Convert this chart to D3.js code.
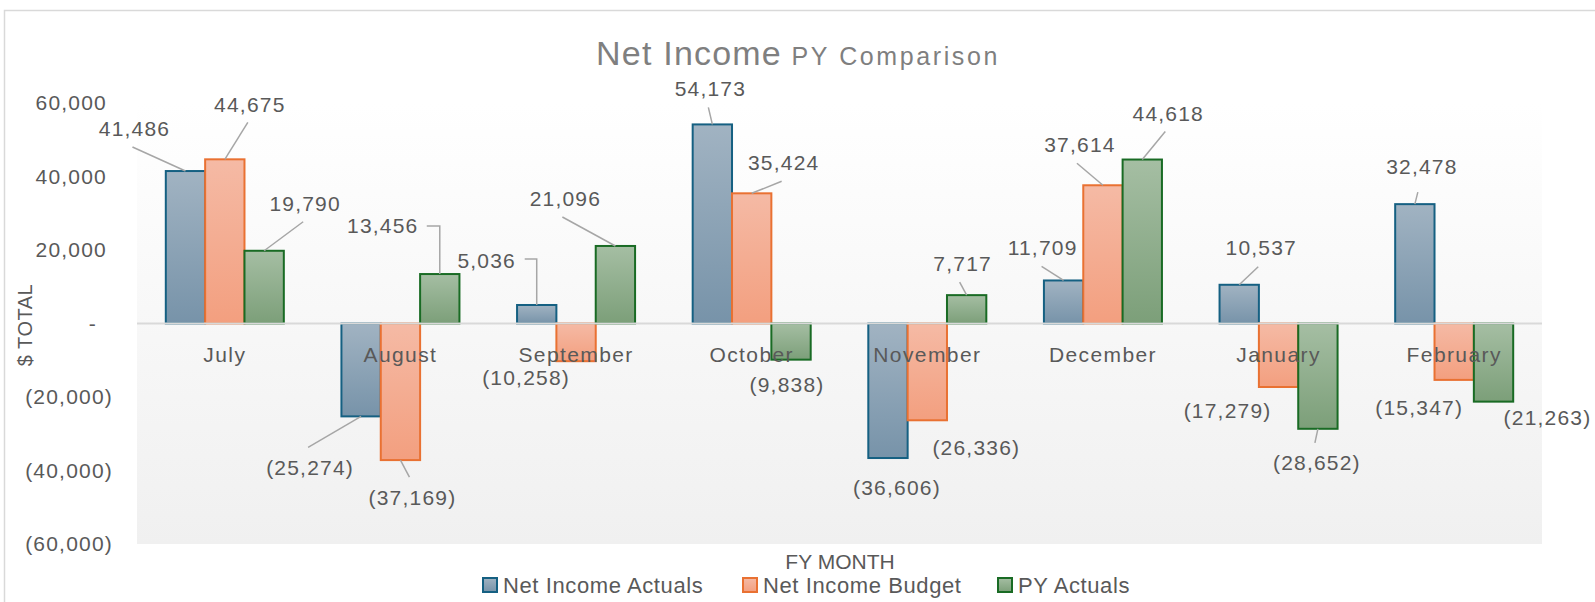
<!DOCTYPE html>
<html>
<head>
<meta charset="utf-8">
<script src="https://cdn.jsdelivr.net/npm/d3@7"></script>
<style>
    body { margin: 0; background: #fff; }
    #chart-area { width: 1595px; height: 602px; }
    .tick-label, .data-label, .month-label { font-family: "Liberation Sans", Arial, sans-serif; fill: #595959; }
    .narrow { font-family: "Liberation Sans", Arial, sans-serif; fill: #595959; }
</style>
</head>
<body>
<div id="chart-area"></div>
<script>

// chart data
let months = ["July", "August", "September", "October", "November", "December", "January", "February"];
let seriesNames = ["Net Income Actuals", "Net Income Budget", "PY Actuals"];
let actuals = [41486, -25274, 5036, 54173, -36606, 11709, 10537, 32478];
let budget = [44675, -37169, -10258, 35424, -26336, 37614, -17279, -15347];
let pyActuals = [19790, 13456, 21096, -9838, 7717, 44618, -28652, -21263];
let yTicks = [-60000, -40000, -20000, 0, 20000, 40000, 60000];

// label placement relative to bar end: [dx, dy, leaderDx, leaderDy, leaderType]
// leaderType: 0 = none, 1 = straight, 2 = elbow
let labelLayout = [
    [[-51, -42, -53, -24, 1], [-51, 51, -53, 31, 1], [-50, -44, -12, -46, 2], [-2, -36, -4, -17, 1],
     [9, 30, 0, 0, 0], [-21, -33, -22, -14, 1], [22, -37, 19, -18, 1], [7, -37, 3, -12, 1]],
    [[25, -55, 23, -37, 1], [12, 38, 9, 17, 1], [-50, 16, 0, 0, 0], [32, -31, 30, -12, 1],
     [49, 27, 0, 0, 0], [-23, -41, -26, -22, 1], [-51, 24, 0, 0, 0], [-35, 28, 0, 0, 0]],
    [[41, -47, 39, -29, 1], [-57, -48, -13, -48, 2], [-50, -47, -53, -29, 1], [-4, 25, 0, 0, 0],
     [-4, -31, -7, -13, 1], [26, -46, 23, -28, 1], [-1, 34, -3, 14, 1], [54, 16, 0, 0, 0]]
];

let strokeColors = ["#156082", "#E97132", "#196B24"];
let gradStops = [["#a1b3c2", "#7793a9"], ["#f5baa5", "#f39f7f"], ["#a5bea3", "#7c9f79"]];


class BarVis {

    constructor(parentElement) {
        this.parentElement = parentElement;
        this.initVis();
    }

    initVis() {
        let vis = this;

        vis.width = 1595;
        vis.height = 602;
        vis.plot = {left: 137, right: 1542, top: 103, bottom: 544};

        vis.svg = d3.select("#" + vis.parentElement).append("svg")
            .attr("width", vis.width)
            .attr("height", vis.height);

        let defs = vis.svg.append("defs");

        // plot area background
        let bg = defs.append("linearGradient").attr("id", "plot-bg")
            .attr("x1", 0).attr("y1", 0).attr("x2", 0).attr("y2", 1);
        bg.append("stop").attr("offset", "0%").attr("stop-color", "#ffffff");
        bg.append("stop").attr("offset", "100%").attr("stop-color", "#f0f0f0");

        // bar fills
        gradStops.forEach((s, i) => {
            let g = defs.append("linearGradient").attr("id", "bar-grad-" + i)
                .attr("x1", 0).attr("y1", 0).attr("x2", 0).attr("y2", 1);
            g.append("stop").attr("offset", "0%").attr("stop-color", s[0]);
            g.append("stop").attr("offset", "100%").attr("stop-color", s[1]);
        });

        // chart border
        vis.svg.append("rect")
            .attr("x", 4.5).attr("y", 10.5)
            .attr("width", 1620).attr("height", 620)
            .attr("fill", "none")
            .attr("stroke", "#d9d9d9")
            .attr("stroke-width", 1.5);

        vis.svg.append("rect")
            .attr("x", vis.plot.left).attr("y", vis.plot.top)
            .attr("width", vis.plot.right - vis.plot.left)
            .attr("height", vis.plot.bottom - vis.plot.top)
            .attr("fill", "url(#plot-bg)");

        // Scales
        vis.x0 = d3.scaleBand()
            .domain(months)
            .range([vis.plot.left, vis.plot.right])
            .paddingInner(0.328)
            .paddingOuter(0.164);

        vis.x1 = d3.scaleBand()
            .domain([0, 1, 2])
            .range([0, vis.x0.bandwidth()]);

        vis.y = d3.scaleLinear()
            .domain([-60000, 60000])
            .range([vis.plot.bottom, vis.plot.top]);

        vis.fmt = d3.format(",");

        vis.updateVis();
    }

    label(v) {
        return v < 0 ? "(" + this.fmt(-v) + ")" : this.fmt(v);
    }

    updateVis() {
        let vis = this;

        // y axis
        let yAxis = d3.axisLeft(vis.y)
            .tickValues(yTicks)
            .tickSize(0)
            .tickFormat(d => d === 0 ? "-" : vis.label(d));

        let yG = vis.svg.append("g")
            .attr("transform", "translate(113,0)")
            .call(yAxis);
        yG.select(".domain").remove();
        yG.selectAll("text")
            .attr("class", "tick-label")
            .attr("x", d => d > 0 ? -6 : (d === 0 ? -16 : 0))
            .attr("font-size", 21)
            .style("letter-spacing", "1.2px")
            .attr("fill", "#595959");

        // bars
        let seriesData = [actuals, budget, pyActuals];
        let bars = [];
        seriesData.forEach((vals, s) => {
            vals.forEach((v, m) => bars.push({s: s, m: m, value: v}));
        });

        vis.svg.append("g").selectAll("rect")
            .data(bars)
            .enter().append("rect")
            .attr("x", d => vis.x0(months[d.m]) + vis.x1(d.s))
            .attr("y", d => vis.y(Math.max(0, d.value)))
            .attr("width", vis.x1.bandwidth())
            .attr("height", d => Math.abs(vis.y(d.value) - vis.y(0)))
            .attr("fill", d => "url(#bar-grad-" + d.s + ")")
            .attr("stroke", d => strokeColors[d.s])
            .attr("stroke-width", 2);

        // zero line
        vis.svg.append("line")
            .attr("x1", vis.plot.left).attr("x2", vis.plot.right)
            .attr("y1", vis.y(0)).attr("y2", vis.y(0))
            .attr("stroke", "#d9d9d9")
            .attr("stroke-width", 2);

        // month labels
        let xAxis = d3.axisBottom(vis.x0).tickSize(0);
        let xG = vis.svg.append("g")
            .attr("transform", "translate(0," + vis.y(0) + ")")
            .call(xAxis);
        xG.select(".domain").remove();
        xG.selectAll("text")
            .attr("class", "month-label")
            .attr("y", 31)
            .attr("dy", "0.35em")
            .attr("font-size", 21)
            .style("letter-spacing", "1.4px")
            .attr("fill", "#595959");

        // data labels + leader lines
        let barEnd = d => [vis.x0(months[d.m]) + vis.x1(d.s) + vis.x1.bandwidth() / 2, vis.y(d.value)];
        let leaders = vis.svg.append("g");
        bars.forEach(d => {
            let lay = labelLayout[d.s][d.m];
            let [bx, by] = barEnd(d);
            if (lay[4] === 1) {
                leaders.append("path")
                    .attr("d", "M" + (bx + lay[2]) + "," + (by + lay[3]) + "L" + bx + "," + by);
            } else if (lay[4] === 2) {
                leaders.append("path")
                    .attr("d", "M" + (bx + lay[2]) + "," + (by + lay[3]) + "H" + bx + "V" + by);
            }
        });
        leaders.selectAll("path")
            .attr("fill", "none")
            .attr("stroke", "#a6a6a6")
            .attr("stroke-width", 1.5);

        vis.svg.append("g").selectAll("text")
            .data(bars)
            .enter().append("text")
            .attr("class", "data-label")
            .attr("x", d => barEnd(d)[0] + labelLayout[d.s][d.m][0])
            .attr("y", d => barEnd(d)[1] + labelLayout[d.s][d.m][1])
            .attr("dy", "0.35em")
            .attr("text-anchor", "middle")
            .attr("font-size", 21)
            .style("letter-spacing", "1.2px")
            .text(d => vis.label(d.value));

        // title
        let title = vis.svg.append("text")
            .attr("x", 798)
            .attr("y", 65)
            .attr("text-anchor", "middle")
            .attr("fill", "#7f7f7f")
            .attr("font-family", "Liberation Sans, Arial, sans-serif");
        title.append("tspan").attr("font-size", 34).style("letter-spacing", "1.2px").text("Net Income");
        title.append("tspan").attr("font-size", 25).style("letter-spacing", "2.6px").text(" PY Comparison");

        // axis titles
        vis.svg.append("text")
            .attr("class", "narrow")
            .attr("transform", "translate(25,325) rotate(-90)")
            .attr("text-anchor", "middle")
            .attr("dy", "0.35em")
            .attr("font-size", 20)
            .style("letter-spacing", "0.5px")
            .text("$ TOTAL");

        vis.svg.append("text")
            .attr("class", "narrow")
            .attr("x", 840).attr("y", 562)
            .attr("text-anchor", "middle")
            .attr("dy", "0.35em")
            .attr("font-size", 21)
            .text("FY MONTH");

        // legend
        let legendX = [483, 743, 998];
        let legend = vis.svg.append("g").selectAll("g")
            .data(seriesNames)
            .enter().append("g")
            .attr("transform", (d, i) => "translate(" + legendX[i] + ",578)");
        legend.append("rect")
            .attr("width", 14).attr("height", 14)
            .attr("fill", (d, i) => "url(#bar-grad-" + i + ")")
            .attr("stroke", (d, i) => strokeColors[i])
            .attr("stroke-width", 2);
        legend.append("text")
            .attr("class", "narrow")
            .attr("x", 20).attr("y", 7)
            .attr("dy", "0.35em")
            .attr("font-size", 22)
            .style("letter-spacing", "0.6px")
            .text(d => d);
    }
}

new BarVis("chart-area");

</script>
</body>
</html>
